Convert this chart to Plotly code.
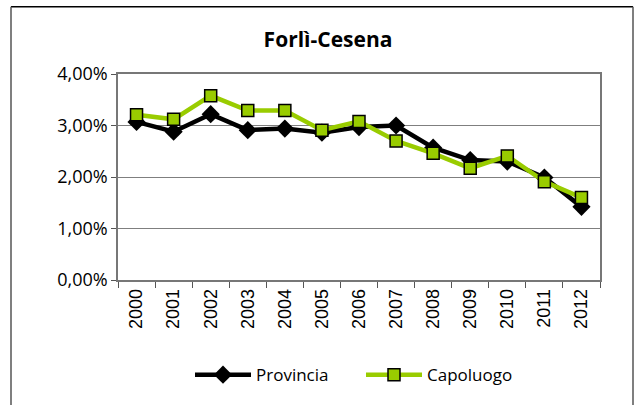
import plotly.graph_objects as go

years = ["2000", "2001", "2002", "2003", "2004", "2005", "2006",
         "2007", "2008", "2009", "2010", "2011", "2012"]
provincia = [0.0307, 0.0288, 0.0322, 0.0291, 0.0294, 0.0286, 0.0297,
             0.0300, 0.0257, 0.0233, 0.0230, 0.0199, 0.0142]
capoluogo = [0.0321, 0.0312, 0.0358, 0.0329, 0.0329, 0.0291, 0.0308,
             0.0270, 0.0246, 0.0217, 0.0241, 0.0191, 0.0160]

GREEN = "#99CC00"
W, H = 635, 405
L, R, T, B = 118, 35, 74, 123

fig = go.Figure()
fig.add_trace(go.Scatter(
    x=years, y=provincia, name="Provincia", mode="lines+markers",
    line=dict(color="black", width=4.5),
    marker=dict(symbol="diamond", size=14, color="black"),
))
fig.add_trace(go.Scatter(
    x=years, y=capoluogo, name="Capoluogo", mode="lines+markers",
    line=dict(color=GREEN, width=4.5),
    marker=dict(symbol="square", size=12, color=GREEN,
                line=dict(color="black", width=1.5)),
))

# outer chart frame (paper coordinates relative to the plot area)
pw, ph = W - L - R, H - T - B
def px(x): return (x - L) / pw
def py(y): return (H - B - y) / ph
x0, x1, y0, y1 = px(11), px(633), py(412), py(6)
fig.add_shape(type="line", xref="paper", yref="paper", x0=x0, x1=x1, y0=y1, y1=y1,
              line=dict(color="black", width=1.5))
fig.add_shape(type="line", xref="paper", yref="paper", x0=x0, x1=x0, y0=y0, y1=y1,
              line=dict(color="#555555", width=1.5))
fig.add_shape(type="line", xref="paper", yref="paper", x0=x1, x1=x1, y0=y0, y1=y1,
              line=dict(color="#555555", width=1.5))

fig.update_layout(
    width=W, height=H,
    margin=dict(l=L, r=R, t=T, b=B),
    paper_bgcolor="white", plot_bgcolor="white",
    separators=",.",
    title=dict(text="<b>Forlì-Cesena</b>", x=328 / W, xanchor="center",
               y=1 - 40 / H, yanchor="middle",
               font=dict(family="Open Sans", size=21, color="black")),
    showlegend=True,
    legend=dict(orientation="h", x=px(190), xanchor="left", y=py(378), yanchor="middle",
                font=dict(family="Open Sans", size=17, color="black"),
                itemwidth=56, entrywidth=100, entrywidthmode="pixels",
                traceorder="normal"),
    xaxis=dict(type="category", range=[-0.5, len(years) - 0.5],
               tickangle=-90, tickson="boundaries",
               ticks="outside", ticklen=6, tickcolor="#555555",
               showline=True, linecolor="#777777", linewidth=1.5, mirror=True,
               showgrid=False,
               tickfont=dict(family="Liberation Sans", size=18, color="black")),
    yaxis=dict(range=[0, 0.04], dtick=0.01, tickformat=".2%",
               ticks="outside", ticklen=5, tickcolor="#555555",
               showline=True, linecolor="#777777", linewidth=1.5, mirror=True,
               gridcolor="#7f7f7f", gridwidth=1, zeroline=False,
               tickfont=dict(family="Open Sans", size=18, color="black")),
)

fig.write_html("out.html")
